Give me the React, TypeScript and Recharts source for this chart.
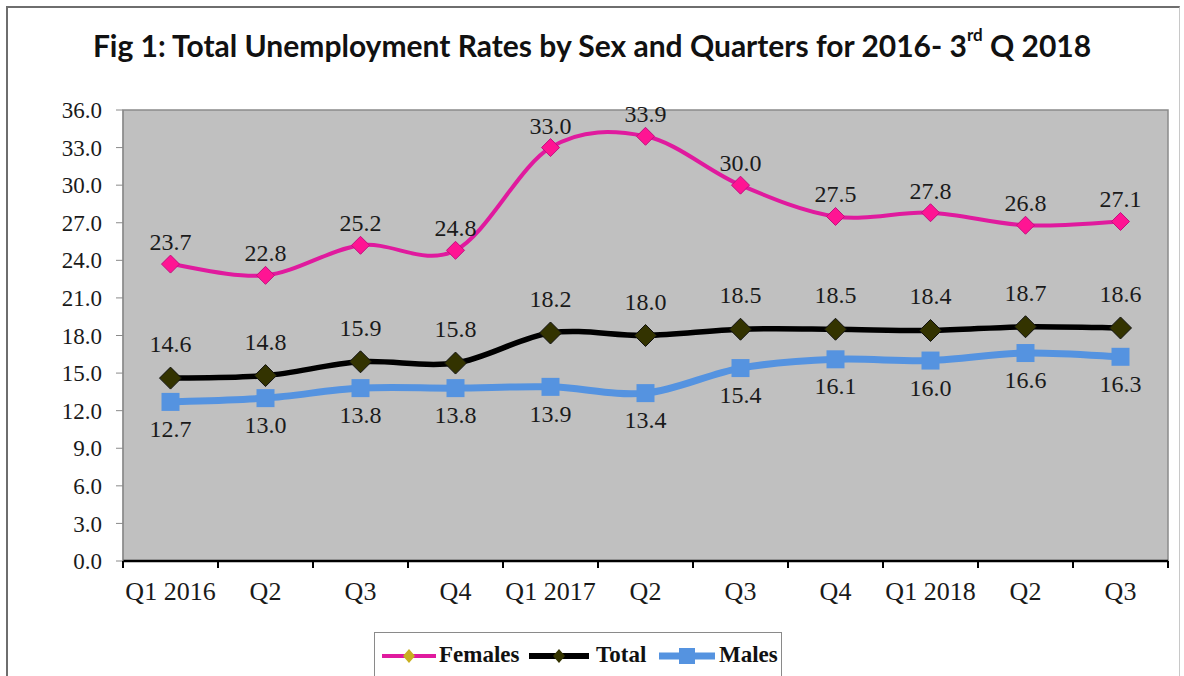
import React from 'react';
import { LineChart, Line, XAxis, YAxis, ReferenceArea, LabelList, Legend } from 'recharts';

const categories = ['Q1 2016', 'Q2', 'Q3', 'Q4', 'Q1 2017', 'Q2', 'Q3', 'Q4', 'Q1 2018', 'Q2', 'Q3'];
const females = [23.7, 22.8, 25.2, 24.8, 33.0, 33.9, 30.0, 27.5, 27.8, 26.8, 27.1];
const total = [14.6, 14.8, 15.9, 15.8, 18.2, 18.0, 18.5, 18.5, 18.4, 18.7, 18.6];
const males = [12.7, 13.0, 13.8, 13.8, 13.9, 13.4, 15.4, 16.1, 16.0, 16.6, 16.3];
const yTicks = [0, 3, 6, 9, 12, 15, 18, 21, 24, 27, 30, 33, 36];

const data = categories.map((c, i) => ({
  idx: i,
  Females: females[i],
  Total: total[i],
  Males: males[i],
}));

// x ticks: category centres (labels) interleaved with band boundaries (tick marks)
const xTicks: number[] = [];
for (let i = 0; i <= categories.length * 2; i++) xTicks.push(-0.5 + i * 0.5);

const FEMALE = '#E01A9E';
const FEMALE_DOT = '#FF1493';
const TOTAL = '#000000';
const TOTAL_DOT = '#333300';
const MALE = '#5593E0';
const SERIF = '"Liberation Serif", "Times New Roman", serif';

// Excel-like smoothed line (Catmull-Rom style Bezier)
const smoothCurve: any = (context: any) => {
  let pts: number[][] = [];
  return {
    areaStart() {},
    areaEnd() {},
    lineStart() {
      pts = [];
    },
    point(x: number, y: number) {
      pts.push([+x, +y]);
    },
    lineEnd() {
      if (!pts.length) return;
      context.moveTo(pts[0][0], pts[0][1]);
      for (let i = 0; i < pts.length - 1; i++) {
        const p0 = pts[i - 1] || pts[i];
        const p1 = pts[i];
        const p2 = pts[i + 1];
        const p3 = pts[i + 2] || p2;
        const c1x = p1[0] + (p2[0] - p0[0]) / 6;
        const c1y = p1[1] + (p2[1] - p0[1]) / 6;
        const c2x = p2[0] - (p3[0] - p1[0]) / 6;
        const c2y = p2[1] - (p3[1] - p1[1]) / 6;
        context.bezierCurveTo(c1x, c1y, c2x, c2y, p2[0], p2[1]);
      }
    },
  };
};

const diamond = (fill: string, stroke: string, r: number) => (props: any) => {
  const { cx, cy, index } = props;
  if (cx == null || cy == null) return <g key={index} />;
  return (
    <path
      key={index}
      d={`M${cx},${cy - r}L${cx + r},${cy}L${cx},${cy + r}L${cx - r},${cy}Z`}
      fill={fill}
      stroke={stroke}
      strokeWidth={1}
    />
  );
};

const square = (fill: string, s: number) => (props: any) => {
  const { cx, cy, index } = props;
  if (cx == null || cy == null) return <g key={index} />;
  return <rect key={index} x={cx - s / 2} y={cy - s / 2} width={s} height={s} fill={fill} />;
};

const makeLabel = (dy: number) => (p: any) => (
  <text
    key={p.index}
    x={p.x}
    y={p.y + dy}
    textAnchor="middle"
    dominantBaseline="central"
    fontFamily={SERIF}
    fontSize={24}
    fill="#1a1a1a"
  >
    {Number(p.value).toFixed(1)}
  </text>
);

const XTick = (props: any) => {
  const { x, y, payload } = props;
  const v = payload.value;
  if (Math.abs(v - Math.round(v)) > 0.01) {
    return <line x1={x} y1={y} x2={x} y2={y + 7} stroke="#000" strokeWidth={2} />;
  }
  const label = categories[Math.round(v)];
  return (
    <text
      x={x}
      y={y + 21}
      dy="0.71em"
      textAnchor="middle"
      fontFamily={SERIF}
      fontSize={26}
      fill="#1a1a1a"
    >
      {label}
    </text>
  );
};

const LegendContent = () => {
  const item = (iconLeft: number, textLeft: number, label: string, icon: React.ReactNode) => (
    <React.Fragment key={label}>
      <svg style={{ position: 'absolute', left: iconLeft, top: 13 }} width={60} height={20}>
        {icon}
      </svg>
      <span
        style={{
          position: 'absolute',
          left: textLeft,
          top: 8,
          lineHeight: '28px',
          fontFamily: SERIF,
          fontWeight: 'bold',
          fontSize: 23,
          color: '#111',
          whiteSpace: 'nowrap',
        }}
      >
        {label}
      </span>
    </React.Fragment>
  );
  return (
    <div
      style={{
        position: 'relative',
        width: 408,
        height: 50,
        border: '1px solid #8a8a8a',
        borderBottom: 'none',
        boxSizing: 'border-box',
        background: '#fff',
      }}
    >
      {item(
        7,
        64,
        'Females',
        <g>
          <line x1={0} y1={10} x2={54} y2={10} stroke={FEMALE} strokeWidth={4} />
          <path d="M27,3L33,10L27,17L21,10Z" fill="#c8b020" />
        </g>
      )}
      {item(
        154,
        221,
        'Total',
        <g>
          <line x1={0} y1={10} x2={60} y2={10} stroke={TOTAL} strokeWidth={6} />
          <path d="M30,3L36,10L30,17L24,10Z" fill={TOTAL_DOT} />
        </g>
      )}
      {item(
        284,
        344,
        'Males',
        <g>
          <line x1={0} y1={10} x2={56} y2={10} stroke={MALE} strokeWidth={7} />
          <rect x={20} y={2} width={16} height={16} fill={MALE} />
        </g>
      )}
    </div>
  );
};

export default function App() {
  return (
    <div
      style={{
        position: 'absolute',
        left: 0,
        top: 0,
        width: 1184,
        height: 676,
        overflow: 'hidden',
        background: '#fff',
      }}
    >
      <div
        style={{
          position: 'absolute',
          left: 6,
          top: 6,
          width: 1174,
          height: 720,
          borderTop: '2px solid #6e6e6e',
          borderLeft: '2px solid #6e6e6e',
          borderRight: '1px solid #c8c8c8',
          boxSizing: 'border-box',
        }}
      />
      <LineChart
        width={1184}
        height={676}
        data={data}
        margin={{ top: 110, right: 16, bottom: 85, left: 0 }}
        style={{ position: 'absolute', left: 0, top: 0 }}
      >
        <text
          x={592}
          y={45}
          textAnchor="middle"
          dominantBaseline="central"
          fontFamily='"Lato", "Open Sans", sans-serif'
          fontWeight="bold"
          fontSize={30}
          fill="#111"
        >
          Fig 1: Total Unemployment Rates by Sex and Quarters for 2016- 3
          <tspan fontSize={17} dy={-11}>rd</tspan>
          <tspan dy={11}> Q 2018</tspan>
        </text>
        <ReferenceArea
          y1={0}
          y2={36}
          fill="#C0C0C0"
          fillOpacity={1}
          stroke="#8a8a8a"
          strokeWidth={1.5}
          ifOverflow="visible"
        />
        <XAxis
          dataKey="idx"
          type="number"
          domain={[-0.5, categories.length - 0.5]}
          allowDataOverflow
          ticks={xTicks}
          interval={0}
          height={30}
          tickSize={0}
          tickMargin={0}
          tickLine={false}
          axisLine={{ stroke: '#000', strokeWidth: 2.5 }}
          tick={(p: any) => <XTick {...p} />}
        />
        <YAxis
          domain={[0, 36]}
          ticks={yTicks}
          interval={0}
          width={123}
          tickSize={7}
          tickMargin={14}
          axisLine={{ stroke: '#8a8a8a' }}
          tickLine={{ stroke: '#8a8a8a' }}
          tickFormatter={(v: number) => v.toFixed(1)}
          tick={{ fontFamily: SERIF, fontSize: 23, fill: '#1a1a1a' }}
        />
        <Legend
          verticalAlign="middle"
          align="center"
          layout="horizontal"
          content={<LegendContent />}
          wrapperStyle={{ left: 374, top: 632, width: 408, height: 50 }}
        />
        <Line
          dataKey="Males"
          type={smoothCurve}
          stroke={MALE}
          strokeWidth={7}
          dot={square(MALE, 18)}
          activeDot={false}
          isAnimationActive={false}
        >
          <LabelList dataKey="Males" content={makeLabel(27)} />
        </Line>
        <Line
          dataKey="Total"
          type={smoothCurve}
          stroke={TOTAL}
          strokeWidth={5.5}
          dot={diamond(TOTAL_DOT, '#111', 11)}
          activeDot={false}
          isAnimationActive={false}
        >
          <LabelList dataKey="Total" content={makeLabel(-34)} />
        </Line>
        <Line
          dataKey="Females"
          type={smoothCurve}
          stroke={FEMALE}
          strokeWidth={4}
          dot={diamond(FEMALE_DOT, '#c01080', 9)}
          activeDot={false}
          isAnimationActive={false}
        >
          <LabelList dataKey="Females" content={makeLabel(-22)} />
        </Line>
      </LineChart>
    </div>
  );
}
